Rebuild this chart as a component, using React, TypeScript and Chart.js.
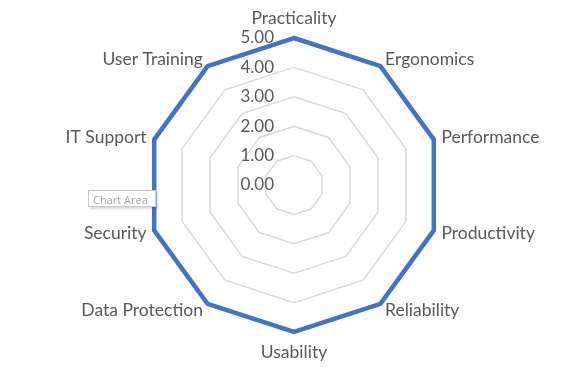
import React, { useEffect, useRef } from "react";
import { Chart, registerables } from "chart.js";

Chart.register(...registerables);

const categories = [
  "Practicality",
  "Ergonomics",
  "Performance",
  "Productivity",
  "Reliability",
  "Usability",
  "Data Protection",
  "Security",
  "IT Support",
  "User Training",
];
const scores = [5, 5, 5, 5, 5, 5, 5, 5, 5, 5];
const tickValues = [0, 1, 2, 3, 4, 5];

const FONT = "Lato, 'Open Sans', sans-serif";

const labelPlugin = {
  id: "excelLabels",
  afterDatasetsDraw(chart: any) {
    const scale = chart.scales.r;
    const ctx = chart.ctx;
    ctx.save();
    ctx.fillStyle = "#595959";
    // tick labels
    ctx.font = `17px ${FONT}`;
    ctx.textAlign = "right";
    ctx.textBaseline = "middle";
    for (const v of tickValues) {
      const d = scale.getDistanceFromCenterForValue(v);
      ctx.fillText(v.toFixed(2), scale.xCenter - 20, scale.yCenter - d);
    }
    // point labels
    ctx.font = `17.5px ${FONT}`;
    const r = scale.drawingArea;
    const n = categories.length;
    categories.forEach((label, i) => {
      const deg = (360 * i) / n;
      const vertical = deg === 0 || deg === 180;
      const p = scale.getPointPosition(i, r + (vertical ? 20 : 8));
      if (vertical) ctx.textAlign = "center";
      else if (deg < 180) ctx.textAlign = "left";
      else ctx.textAlign = "right";
      ctx.textBaseline = "middle";
      ctx.fillText(label, p.x, p.y);
    });
    ctx.restore();
  },
};

export default function App() {
  const ref = useRef<HTMLCanvasElement>(null);
  useEffect(() => {
    const chart = new Chart(ref.current!, {
      type: "radar",
      data: {
        labels: categories,
        datasets: [
          {
            data: scores,
            borderColor: "#4472C4",
            borderWidth: 4.5,
            backgroundColor: "rgba(0,0,0,0)",
            fill: false,
            pointRadius: 0,
            pointHoverRadius: 0,
          },
        ],
      },
      options: {
        animation: false,
        responsive: false,
        layout: { padding: { top: 38, bottom: 34, left: 6, right: 0 } },
        plugins: { legend: { display: false }, tooltip: { enabled: false } },
        scales: {
          r: {
            min: 0,
            max: 5,
            ticks: { display: false, stepSize: 1 },
            angleLines: { display: false },
            grid: { color: "#d9d9d9", lineWidth: 1.5 },
            pointLabels: { display: false },
          },
        },
      },
      plugins: [labelPlugin],
    });
    return () => chart.destroy();
  }, []);
  return (
    <div style={{ position: "fixed", left: 0, top: 0, width: 582, height: 367, background: "#fff" }}>
      <canvas ref={ref} width={582} height={367} style={{ display: "block" }} />
      <div
        style={{
          position: "absolute",
          left: 88,
          top: 190,
          width: 68,
          height: 17,
          border: "1px solid #c8c8c8",
          background: "#fff",
          boxShadow: "2px 2px 2px rgba(0,0,0,0.15)",
          fontFamily: "'Segoe UI', 'Open Sans', sans-serif",
          fontSize: 11,
          lineHeight: "17px",
          color: "#a6a6a6",
          paddingLeft: 4,
          boxSizing: "border-box",
          whiteSpace: "nowrap",
          overflow: "hidden",
        }}
      >
        Chart Area
      </div>
    </div>
  );
}
